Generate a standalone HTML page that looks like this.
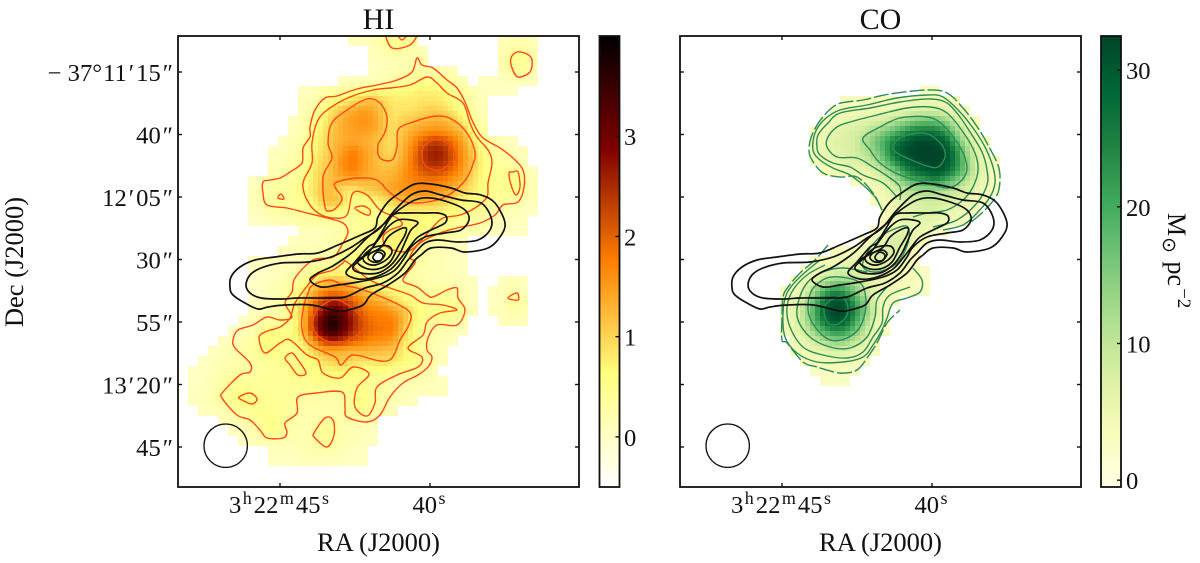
<!DOCTYPE html>
<html lang="en">
<head>
<meta charset="utf-8">
<title>HI and CO maps</title>
<style>
html,body{margin:0;padding:0;background:#fff;width:1200px;height:563px;overflow:hidden}
svg{display:block}
text{font-family:"Liberation Serif","DejaVu Serif",serif;fill:#111}
</style>
</head>
<body>
<svg id="fig" xmlns="http://www.w3.org/2000/svg" width="1200" height="563" viewBox="0 0 1200 563">
<defs>
<clipPath id="clipHI"><rect x="178" y="36" width="401" height="451"/></clipPath>
<clipPath id="clipCO"><rect x="680" y="36" width="401" height="451"/></clipPath>
</defs>
<g id="hiMap"></g>
<g id="coMap"></g>
<g id="hiLines" clip-path="url(#clipHI)"></g>
<g id="coLines" clip-path="url(#clipCO)"></g>
<g id="hiCb"></g>
<g id="coCb"></g>
<g id="axes"></g>
<text x="378.5" y="29" font-size="30" text-anchor="middle">HI</text>
<text x="880.5" y="29" font-size="30" text-anchor="middle">CO</text>
<text x="378.5" y="551" font-size="26.5" text-anchor="middle">RA (J2000)</text>
<text x="880.5" y="551" font-size="26.5" text-anchor="middle">RA (J2000)</text>
<text transform="translate(23,262) rotate(-90)" font-size="26.5" text-anchor="middle">Dec (J2000)</text>
<text transform="translate(1168,213) rotate(90)" font-size="26">M<tspan font-size="19" dy="5" dx="1" font-family="DejaVu Sans">⊙</tspan><tspan dy="-5" dx="2"> pc</tspan><tspan font-size="19" dy="-10" dx="2">−2</tspan></text>
</svg>
<script>
const _ = null;
/* Map grid: one cell = 4 arcsec. Contour vertices are in map units of 0.4 arcsec from the top-left corner. */
const hiFirstCol = [17,19,19,19,16,12,12,12,11,11,10,9,9,9,7,7,7,7,7,12,11,10,7,7,7,7,7,7,6,5,4,3,2,1,1,1,1,2,4,5,6,9,9];
const hiRows = [
[.05,.1,.15,.3,.45,.5,.3,_,_,_,_,_,_,_,_,.1,.15,.15,.1],
[.1,.2,.35,.3,.25,.1,_,_,_,_,_,_,_,.15,.35,.4,.15],
[.1,.1,.15,.15,.2,.25,_,_,_,_,_,_,_,.2,.45,.45,.2],
[.05,.1,.15,.2,.3,.3,.2,.15,.1,_,_,_,_,.15,.4,.4,.15],
[.05,.1,.1,.15,.2,.3,.35,.4,.5,.5,.45,.3,.15,_,.05,.05,.1,.1,.1,.05],
[.05,.1,.2,.3,.35,.45,.55,.6,.6,.65,.65,.7,.75,.75,.65,.5,.35,.2,.1,.05,0,0],
[.1,.2,.4,.6,.7,.9,1.1,1.2,1,.8,.8,.8,.85,.85,.8,.6,.4,.25,.1],
[.15,.3,.55,.9,1.2,1.4,1.5,1.4,1.1,.85,.85,.9,1,1.1,1,.8,.55,.3,.15],
[.05,.2,.45,.7,1.1,1.35,1.5,1.6,1.5,1.15,.85,1.05,1.15,1.25,1.3,1.3,1.15,.75,.4,.2],
[.1,.2,.5,.8,1.15,1.35,1.45,1.5,1.4,1.15,.9,1.15,1.35,1.5,1.6,1.55,1.4,1.2,.6,.25],
[.05,.15,.3,.6,.85,1.2,1.35,1.4,1.35,1.25,1.05,.9,1.25,1.6,2,2.3,2.2,1.85,1.4,.85,.4,.2,.1,.05],
[.05,.1,.2,.35,.65,.9,1.2,1.5,1.75,1.5,1.3,1.05,.95,1.3,1.75,2.35,2.65,2.55,2.05,1.55,1.05,.55,.35,.25,.15,.1],
[.1,.15,.25,.4,.7,1,1.2,1.65,1.8,1.55,1.3,1.1,1.1,1.4,1.85,2.35,2.6,2.5,2.1,1.55,1.15,.65,.4,.35,.25,.1],
[.15,.2,.3,.45,.8,1.05,1.25,1.6,1.75,1.5,1.3,1.2,1.25,1.5,1.8,2.1,2.25,2.15,1.85,1.5,1,.6,.45,.45,.5,.25,.05],
[.05,.15,.25,.3,.35,.55,.8,1.1,1.25,1.3,1.3,1.3,1.25,1.3,1.4,1.55,1.7,1.8,1.8,1.7,1.5,1.3,.9,.6,.5,.45,.6,.35,.15],
[.1,.3,.35,.35,.4,.6,.85,1.2,1.15,.85,.75,.95,1.1,1.25,1.45,1.55,1.6,1.65,1.6,1.5,1.3,1,.75,.6,.5,.45,.5,.35,.15],
[.1,.3,.35,.4,.4,.5,.7,1.1,1.25,1,.5,.5,.65,.8,1.05,1.2,1.25,1.2,1.2,1.05,.85,.7,.6,.5,.4,.35,.3,.2,.1],
[.05,.15,.3,.3,.3,.35,.5,.75,.7,.55,.45,.6,.45,.55,.7,.75,.75,.75,.75,.7,.65,.55,.5,.4,.3,.2,.15,.1,.05],
[0,.05,.1,.15,.2,.3,.35,.3,.3,.35,.4,.4,.45,.5,.6,.65,.7,.65,.6,.55,.5,.4,.3,.25,.15,.1,.05,.05],
[.05,.1,.15,.2,.3,.4,.45,.55,.6,.7,.75,.7,.6,.55,.5,.35,.25,.2,.15,.1,.05,.05,0],
[.05,.1,.1,.15,.2,.3,.4,.55,.6,.65,.75,.7,.6,.4,.3,.2,.15,.1],
[.1,.1,.15,.2,.2,.25,.4,.55,.6,.55,.6,.7,.7,.5,.3,.2,.15,.1,.05],
[.05,0,.05,.1,.1,.2,.25,.3,.35,.5,.6,.55,.5,.55,.6,.55,.4,.25,.2,.15,.1,.05],
[0,0,.05,.1,.2,.3,.45,.55,.6,.6,.55,.5,.5,.5,.45,.4,.3,.25,.2,.15,.1,.05],
[0,.05,.1,.2,.3,.45,.75,1.1,1.2,1.15,.95,.7,.6,.5,.4,.3,.3,.25,.2,.2,.15,.1,.05,_,_,.05,.1,.05],
[0,.05,.15,.25,.4,.7,1.25,1.6,1.8,1.65,1.4,1.2,1,.8,.65,.55,.45,.35,.35,.35,.3,.15,.05,_,.05,.15,.3,.05],
[.05,.1,.2,.3,.55,1.05,1.7,2.25,2.6,2.4,2,1.6,1.4,1.3,1,.75,.55,.45,.4,.45,.45,.25,.05,_,.05,.1,.4,.25],
[.1,.15,.25,.3,.6,1.15,2,2.8,3.3,3,2.4,1.9,1.7,1.65,1.5,1.2,.8,.6,.55,.55,.55,.4,.1,_,.05,.15,.3,.2],
[.05,.1,.25,.3,.35,.55,1.15,2.4,3.3,3.85,3.3,2.6,2.1,1.85,1.8,1.75,1.3,.75,.5,.35,.4,.35,.2,_,_,_,.1,.1,.1],
[.05,.1,.2,.5,.6,.55,.6,1.2,2.3,3.2,3.6,3.1,2.5,2.1,1.9,1.8,1.75,1.15,.65,.4,.25,.2,.15,.05],
[.05,.1,.2,.3,.6,.65,.55,.55,.85,1.5,2.3,2.5,2.3,2,1.8,1.65,1.6,1.45,.9,.6,.35,.2,.15,.05],
[.05,.1,.2,.3,.35,.55,.55,.45,.45,.6,.95,1.3,1.35,1.3,1.25,1.3,1.25,1.2,1.15,.75,.6,.4,.2,.1],
[.05,.1,.15,.2,.25,.3,.4,.45,.55,.5,.55,.65,.9,1.05,1.15,.95,.85,.9,.95,.85,.7,.6,.4,.2,.1],
[0,.05,.1,.2,.3,.3,.3,.35,.35,.4,.55,.55,.55,.65,.7,.7,.6,.55,.55,.55,.5,.45,.35,.25,.15],
[.05,.05,.15,.3,.4,.4,.35,.4,.4,.4,.4,.45,.5,.55,.55,.5,.45,.5,.4,.35,.25,.15,.2,.15,.1,.05],
[.05,.1,.2,.35,.45,.5,.45,.4,.4,.4,.4,.35,.35,.35,.3,.35,.5,.55,.4,.3,.2,.15,.15,.1,.1,.1],
[.05,.1,.2,.35,.5,.6,.5,.45,.45,.4,.4,.3,.25,.25,.25,.3,.45,.6,.4,.25,.15,.1,.05],
[.1,.1,.15,.3,.4,.45,.5,.45,.4,.35,.25,.2,.2,.25,.25,.4,.5,.35,.2,.1],
[.1,.15,.25,.35,.45,.55,.4,.25,.2,.2,.35,.3,.25,.2,.2,.15],
[.05,.1,.2,.4,.55,.4,.2,.2,.25,.45,.4,.2,.15,.1,.05],
[.05,.1,.2,.25,.2,.15,.2,.25,.45,.35,.2,.15,.1,.05],
[.05,.1,.1,.15,.2,.25,.2,.15,.05,.05],
[.05,.05,.05,.1,.1,.1,.1,.05,.05,.05]
];
const coFirstRow = 5;
const coFirstCol = [24,16,15,14,13,13,13,13,14,17,19,19,20,20,19,18,15,13,12,11,10,10,10,10,10,11,11,12,13,14];
const coRows = [
[3,3],
[3,3.2,3.4,3.4,3.4,3.7,4.1,4.5,4.8,4.8,4.1,3.4],
[3,4.1,4.4,4.5,5,5.1,5.5,6,7.5,8,8,6.5,4.8,3.4],
[4,4.8,5.6,6,6.5,7.5,8.5,11,13.5,16,17,17,14.5,9.5,5.5,3.4],
[3.4,5.2,6,7,7.8,9,12,15,18,22,25,26,25.5,22,14.5,7.8,4.5],
[4.5,5.6,6.8,7.5,8.2,12,16,20,25.5,29,31.5,32,31.5,29,20,11,5.5,3.4],
[4.8,5.6,6.5,7.3,8.2,11,14.5,20,28,31.5,32.5,33,33,32,25,14.5,7.8,4.5],
[3.7,4.6,5.6,6.4,7.5,8.7,11.5,17,24,29,31.5,32.5,33,31.5,25.5,16,8.5,5.1,3.4],
[3.4,4.2,4.6,5.2,5.6,7.2,11,16,23,27,29.5,31,29,23,16,8.5,5.5,3.4],
[3,4.2,5.3,7,11,16,20,21,24,20,16,11,7.2,4.8,3.4],
[3.7,5.2,7.2,9.5,11.5,12,12,11,9.5,7.5,5.8,4.2,3],
[3.2,4.5,5.8,7,7.8,8.5,8.7,8,7,5.7,4.5,3.4],
[3.7,4.8,5.6,7,7.8,7.5,6.4,5.3,4.4,3.4],
[3.4,4.5,5.3,6,6,5.6,4.8,4.1,3.4],
[3,4.2,5.3,6,5.6,4.8,3.7,2.5],
[3,4.2,6,8.5,7.8,4.8,3.4],
[3,3.4,4.1,4.8,7,8.5,7.8,5.8,3.7],
[2.5,3.7,4.4,5.1,5.5,6,7,7,5.8,4.5,3],
[3,4.1,5.5,6.8,7.5,7,6.4,6,5.6,4.8,4.1,3.7,2.5],
[3,4.5,7,11,13.5,13.5,11,7.8,6,5.1,4.2,3.8,3.7,2.5],
[3,4.5,7,13.5,20,24,21,16,9.5,6,4.8,3.7,3.4,3.2,2.5],
[4.1,5.5,10,18,27,31,29.5,21,13.5,6.5,4.1,3],
[4.4,6,11.5,20,29.5,33,31.5,24,16,7.5,3.7],
[4.4,6,11,19,27,31,29,21,13.5,6.4,3.4],
[3.8,5.5,8.5,14.5,20,23,22,17,9.5,5.1,3],
[4.4,6,8.7,12,14.5,14,10,7,4],
[3.2,4.5,5.5,6.4,7.5,7.2,5.8,4.2,3],
[3.2,4.1,4.4,4.4,4.2,4.1,3.4],
[2.5,3,3.2,3,2.8],
[2.5,2.5,2.5]
];
const jetLoops = [
[[52,252],[53,241],[62,231],[77,224],[97,221],[120,218],[140,217],[160,209],[183,199],[197,192],[200,181],[210,166],[223,156],[237,148],[253,148],[273,152],[287,157],[303,159],[317,167],[327,187],[322,201],[310,212],[287,216],[273,212],[253,212],[243,219],[237,224],[227,237],[210,249],[193,259],[185,269],[170,274],[160,275],[133,269],[107,269],[90,271],[80,273],[67,267],[55,259]],
[[68,249],[72,239],[83,232],[103,227],[130,226],[153,221],[172,212],[187,202],[202,192],[217,174],[233,159],[247,155],[263,159],[283,164],[303,167],[313,181],[312,194],[300,204],[280,206],[260,204],[247,207],[237,217],[230,224],[220,237],[205,247],[187,252],[167,261],[147,262],[120,262],[103,263],[83,262],[72,257]],
[[132,244],[140,237],[153,231],[167,222],[177,214],[190,201],[207,187],[218,176],[237,164],[253,162],[273,167],[287,174],[291,184],[283,194],[267,197],[247,201],[233,211],[227,221],[217,234],[203,241],[180,246],[160,249],[143,251]],
[[268,180],[260,177],[247,177],[227,177],[215,179],[205,194],[197,207],[190,211],[177,226],[168,237],[180,243],[197,241],[213,233],[223,222],[233,209],[240,201],[253,194],[267,187]],
[[240,187],[233,184],[220,184],[210,191],[200,204],[190,217],[175,231],[183,237],[200,237],[213,229],[222,217],[228,204],[233,194]],
[[228,192],[220,194],[210,201],[202,212],[180,224],[187,232],[200,233],[212,226],[220,211],[227,199]],
[[188,217],[197,211],[210,210],[214,216],[208,224],[197,229],[188,227],[185,222]],
[[193,217],[202,214],[207,218],[202,225],[195,226],[190,222]]
];
const jetCore = [[[196,219],[200,216],[205,219],[203,224],[198,225],[195,222]]];
const hiLevelLoops = [
[[85,146],[92,144],[102,142],[112,136],[124,127],[125,112],[132,101],[132,91],[137,74],[147,62],[159,60],[179,53],[199,49],[219,44],[234,36],[239,22],[244,29],[255,32],[269,44],[279,52],[287,66],[294,84],[304,101],[322,112],[335,122],[345,134],[346,151],[340,166],[325,169],[317,179],[302,187],[279,192],[262,197],[242,207],[232,221],[237,227],[225,244],[239,251],[249,259],[255,261],[269,254],[279,252],[280,262],[287,274],[279,289],[259,289],[250,302],[249,314],[254,321],[250,331],[240,339],[225,347],[212,361],[202,379],[189,386],[169,381],[167,371],[164,356],[139,357],[120,361],[119,377],[107,387],[109,396],[105,402],[89,402],[82,394],[72,384],[59,379],[44,362],[45,356],[62,339],[72,336],[72,327],[57,312],[55,304],[60,294],[75,289],[89,281],[102,284],[114,281],[107,267],[114,256],[117,242],[135,224],[155,221],[165,207],[170,196],[165,187],[149,182],[125,176],[109,172],[89,169],[85,157]],
[[249,41],[259,47],[269,57],[285,67],[292,87],[299,101],[310,114],[314,127],[310,147],[309,161],[297,172],[282,179],[265,182],[255,191],[237,211],[225,216],[209,211],[205,201],[212,194],[224,189],[219,182],[202,174],[189,159],[175,157],[169,179],[155,182],[140,177],[129,164],[125,147],[134,127],[134,107],[140,84],[152,72],[172,61],[195,54],[212,52],[232,49]],
[[189,63],[202,67],[209,81],[207,96],[200,109],[202,122],[214,124],[219,111],[220,94],[232,87],[259,80],[275,84],[289,97],[297,116],[294,131],[285,147],[265,162],[239,167],[222,164],[209,154],[199,144],[179,142],[159,146],[157,151],[164,162],[159,171],[152,175],[147,171],[145,141],[154,122],[150,107],[154,87],[169,74]],
[[262,103],[275,114],[275,124],[262,134],[249,131],[244,121],[247,109]],
[[100,162],[103,158],[106,163]],
[[177,172],[185,170],[192,174],[191,179],[184,177]],
[[335,136],[340,136],[342,151],[338,159],[333,149],[331,137]],
[[339,16],[349,18],[354,24],[352,36],[340,41],[334,32],[333,22]],
[[165,227],[155,234],[139,239],[130,249],[117,267],[112,282],[102,291],[87,296],[81,302],[87,317],[102,307],[112,304],[129,319],[140,324],[145,337],[162,342],[175,331],[191,338],[179,352],[177,371],[189,380],[197,367],[199,351],[219,339],[240,331],[244,321],[230,312],[245,299],[249,286],[262,277],[279,274],[265,269],[245,267],[232,259],[212,252],[192,244],[169,226]],
[[135,249],[152,244],[165,249],[179,252],[199,259],[225,271],[233,279],[230,291],[222,304],[214,322],[202,325],[175,319],[163,329],[157,321],[132,309],[124,294],[125,274],[130,257]],
[[154,264],[165,266],[179,276],[186,287],[182,297],[165,306],[152,306],[139,299],[135,287],[139,274]],
[[107,322],[114,317],[120,324],[128,337],[120,339],[112,329]],
[[61,361],[72,357],[79,363],[74,368],[64,364]],
[[136,397],[147,382],[155,384],[156,399],[149,411],[137,402]],
[[330,262],[339,257],[340,264]]
];
const hiLevelArcs = [
[[207,-2],[214,12],[232,9],[240,-2]],
[[219,-2],[224,4],[230,-2]]
];
const coSolidLoops = [
[[183,102],[200,91],[220,82],[247,81],[263,89],[280,111],[287,131],[282,144],[268,152],[247,147],[220,139],[200,127],[190,114]],
[[213,111],[220,102],[237,97],[250,99],[262,109],[265,121],[258,131],[247,130],[227,122],[217,117]],
[[128,274],[132,254],[147,242],[167,242],[182,249],[186,269],[180,291],[167,302],[150,304],[135,291]],
[[144,274],[148,266],[160,261],[167,267],[167,279],[158,288],[148,287]],
[[187,217],[200,201],[217,192],[228,191],[228,207],[217,227],[197,236],[183,231]]
];
const coSolidArcs = [
[[202,174],[195,161],[183,149],[170,139],[153,132],[140,124],[133,114],[135,97],[145,83],[160,74],[187,69],[217,62],[247,59],[263,61],[280,76],[293,92],[305,111],[313,131],[315,147],[310,161],[297,177],[283,189],[263,194]],
[[217,161],[203,147],[183,139],[170,131],[153,127],[140,119],[137,111],[138,99],[148,87],[160,77],[190,72],[220,66],[250,63],[267,67],[280,81],[290,96],[302,116],[307,134],[307,149],[297,167],[277,184],[253,191]],
[[220,164],[220,151],[210,142],[193,131],[177,122],[157,121],[147,111],[148,101],[157,91],[170,86],[197,79],[227,72],[250,71],[267,77],[283,96],[295,117],[298,134],[293,151],[283,164],[267,174],[247,177],[233,181]],
[[140,224],[120,241],[107,257],[103,277],[105,301],[117,317],[137,326],[163,326],[183,321],[193,309],[202,294],[207,282],[213,267],[227,262],[240,256],[242,244],[233,232]],
[[145,229],[127,239],[113,254],[107,271],[110,291],[123,311],[143,319],[167,322],[183,316],[193,301],[202,287],[203,271],[210,259],[230,251]],
[[187,236],[163,232],[143,236],[127,247],[118,267],[118,284],[130,301],[150,311],[170,312],[187,301],[195,281],[197,264],[207,251]]
];
const coDashedArcs = [
[[202,174],[193,157],[177,141],[160,141],[143,137],[132,124],[129,114],[132,99],[142,82],[158,68],[183,64],[210,58],[247,54],[267,57],[283,72],[298,92],[308,109],[318,129],[320,144],[317,159],[305,174],[290,187]],
[[148,209],[135,224],[120,237],[108,251],[103,261],[102,281],[102,304],[107,307],[123,326],[137,331],[160,337],[177,334],[187,322],[197,307],[207,287],[220,274]]
];
const beam = [47.7, 409.7, 21.7];
const raTickSeconds = [45, 40];
const raTickParts = [["3","h","22","m","45","s"],["40","s"]];
const decTickOffsets = [0, 25, 50, 75, 100, 125, 150];
const decTickLabels = ["−37°11′15″","40″","12′05″","30″","55″","13′20″","45″"];
const hiBarTicks = [0, 1, 2, 3];
const coBarTicks = [0, 10, 20, 30];

const NS = "http://www.w3.org/2000/svg";
const PANEL_TOP = 36, PANEL_W = 401, PANEL_H = 451, HI_LEFT = 178, CO_LEFT = 680, CELL = 10;
const HI_RANGE = [-0.5, 4.0], CO_RANGE = [-0.5, 32.5];
const ylgn = [[255,255,229],[247,252,185],[217,240,163],[173,221,142],[120,198,121],[65,171,93],[35,132,67],[0,104,55],[0,69,41]];

function make(parent, tag, attrs){
  const el = document.createElementNS(NS, tag);
  for (const k in attrs) el.setAttribute(k, attrs[k]);
  parent.appendChild(el);
  return el;
}
function hiColor(v){
  const t = Math.min(1, Math.max(0, (v - HI_RANGE[0]) / (HI_RANGE[1] - HI_RANGE[0])));
  const a = 2 * (1 - t);
  const c = x => Math.round(255 * Math.min(1, Math.max(0, x)));
  return "rgb(" + c(a) + "," + c(a - .5) + "," + c(a - 1) + ")";
}
function coColor(v){
  const t = Math.min(1, Math.max(0, (v - CO_RANGE[0]) / (CO_RANGE[1] - CO_RANGE[0]))) * 8;
  const i = Math.min(7, Math.floor(t)), f = t - i;
  const p = ylgn[i], q = ylgn[i + 1];
  return "rgb(" + [0,1,2].map(k => Math.round(p[k] + (q[k] - p[k]) * f)).join(",") + ")";
}
function cellAt(rows, first, r, c){
  const row = rows[r];
  if (!row) return null;
  const s = first[r];
  const v = row[c - s];
  return v === undefined ? null : v;
}
function drawMap(group, rows, first, rowShift, left, color, name){
  rows.forEach(function(row, r){
    row.forEach(function(v, k){
      if (v === null) return;
      const c = first[r] + k;
      [-1, 1].forEach(function(dy){
        [-1, 1].forEach(function(dx){
          const gx = cellAt(rows, first, r, c + dx), gy = cellAt(rows, first, r + dy, c), gd = cellAt(rows, first, r + dy, c + dx);
          const a = gx === null ? v : gx, b = gy === null ? v : gy, d = gd === null ? v : gd;
          const val = .5625 * v + .1875 * a + .1875 * b + .0625 * d;
          const rect = make(group, "rect", {
            x: left + c * CELL + (dx < 0 ? 0 : CELL / 2),
            y: PANEL_TOP + (r + rowShift) * CELL + (dy < 0 ? 0 : CELL / 2),
            width: CELL / 2, height: CELL / 2, fill: color(val), "shape-rendering": "crispEdges"
          });
          
          
        });
      });
    });
  });
}
function smoothPath(pts, left, closed){
  const X = p => left + p[0], Y = p => PANEL_TOP + p[1];
  const n = pts.length;
  const at = i => closed ? pts[(i + n) % n] : pts[Math.max(0, Math.min(n - 1, i))];
  let d = "M" + X(pts[0]).toFixed(1) + " " + Y(pts[0]).toFixed(1);
  const last = closed ? n : n - 1;
  for (let i = 0; i < last; i++){
    const p0 = at(i - 1), p1 = at(i), p2 = at(i + 1), p3 = at(i + 2);
    d += "C" + (X(p1) + (X(p2) - X(p0)) / 6).toFixed(1) + " " + (Y(p1) + (Y(p2) - Y(p0)) / 6).toFixed(1) + " " +
         (X(p2) - (X(p3) - X(p1)) / 6).toFixed(1) + " " + (Y(p2) - (Y(p3) - Y(p1)) / 6).toFixed(1) + " " +
         X(p2).toFixed(1) + " " + Y(p2).toFixed(1);
  }
  return d + (closed ? "Z" : "");
}
function drawLines(group, list, left, closed, stroke, width, name, dash, fill){
  list.forEach(function(pts){
    const path = make(group, "path", {d: smoothPath(pts, left, closed), fill: fill || "none", stroke: stroke, "stroke-width": width, "stroke-linejoin": "round"});
    if (dash) path.setAttribute("stroke-dasharray", dash);
    
    
  });
}
function raX(left, s){ return left + 102 + (45 - s) * 30; }
function decY(d){ return 72 + d * 2.5; }

drawMap(document.getElementById("hiMap"), hiRows, hiFirstCol, 0, HI_LEFT, hiColor, "hi-cell");
drawMap(document.getElementById("coMap"), coRows, coFirstCol, coFirstRow, CO_LEFT, coColor, "co-cell");

const hiL = document.getElementById("hiLines"), coL = document.getElementById("coLines");
drawLines(hiL, hiLevelLoops, HI_LEFT, true, "#ff4a12", 1.4, "hi-contour");
drawLines(hiL, hiLevelArcs, HI_LEFT, false, "#ff4a12", 1.4, "hi-contour");
drawLines(coL, coDashedArcs, CO_LEFT, false, "#2e8b57", 1.4, "co-contour-dashed", "15 3");
drawLines(coL, coSolidArcs, CO_LEFT, false, "#2e8b57", 1.4, "co-contour");
drawLines(coL, coSolidLoops, CO_LEFT, true, "#2e8b57", 1.4, "co-contour");
drawLines(hiL, jetLoops, HI_LEFT, true, "#111", 1.7, "jet-contour-on-hi");
drawLines(hiL, jetCore, HI_LEFT, true, "#111", 1.7, "jet-core-on-hi", null, "#fff");
drawLines(coL, jetLoops, CO_LEFT, true, "#111", 1.7, "jet-contour-on-co");
drawLines(coL, jetCore, CO_LEFT, true, "#111", 1.7, "jet-core-on-co");

function drawBar(group, x, w, range, color, ticks, labelX){
  const top = PANEL_TOP, h = PANEL_H;
  const valY = v => top + h * (range[1] - v) / (range[1] - range[0]);
  for (let y = 0; y < h; y++){
    const seg = make(group, "rect", {x: x, y: top + y, width: w, height: 1.2, fill: color(range[1] - (y + .5) / h * (range[1] - range[0]))});
    
    
  }
  const frame = make(group, "rect", {x: x, y: top, width: w, height: h, fill: "none", stroke: "#111", "stroke-width": 1.8});
  
  
  ticks.forEach(function(v){
    const y = valY(v);
    const tick = make(group, "line", {x1: x + w - 4, x2: x + w, y1: y, y2: y, stroke: "#111", "stroke-width": 1.4});
    
    
    const label = make(group, "text", {x: labelX, y: y + 9, "font-size": 24.6});
    label.textContent = String(v);
    
    
  });
}
drawBar(document.getElementById("hiCb"), 599.5, 20, HI_RANGE, hiColor, hiBarTicks, 624);
drawBar(document.getElementById("coCb"), 1101, 20, CO_RANGE, coColor, coBarTicks, 1126);

const axes = document.getElementById("axes");
function drawAxes(left, withDecLabels, panelName){
  const right = left + PANEL_W, top = PANEL_TOP, bottom = PANEL_TOP + PANEL_H;
  const ring = make(axes, "circle", {cx: left + beam[0], cy: top + beam[1], r: beam[2], fill: "none", stroke: "#111", "stroke-width": 1.3});
  
  
  const frame = make(axes, "rect", {x: left, y: top, width: PANEL_W, height: PANEL_H, fill: "none", stroke: "#111", "stroke-width": 1.8});
  
  
  raTickSeconds.forEach(function(s, i){
    const x = raX(left, s);
    [[top, top + 4], [bottom - 4, bottom]].forEach(function(seg){
      const t = make(axes, "line", {x1: x, x2: x, y1: seg[0], y2: seg[1], stroke: "#111", "stroke-width": 1.4});
      
      
    });
    const label = make(axes, "text", {x: x - 1, y: 513, "font-size": 24.6, "text-anchor": "middle"});
    
    
    raTickParts[i].forEach(function(part, k){
      const span = make(label, "tspan", {});
      span.textContent = part;
      if (k % 2 === 1){ span.setAttribute("font-size", "18"); span.setAttribute("dy", "-9"); span.setAttribute("dx", "1.5"); }
      else if (k > 0){ span.setAttribute("dy", "9"); span.setAttribute("dx", "2"); }
    });
  });
  decTickOffsets.forEach(function(d, i){
    const y = decY(d);
    [[left, left + 4], [right - 4, right]].forEach(function(seg){
      const t = make(axes, "line", {x1: seg[0], x2: seg[1], y1: y, y2: y, stroke: "#111", "stroke-width": 1.4});
      
      
    });
    if (withDecLabels){
      const label = make(axes, "text", {x: left - 5, y: y + 9, "font-size": 24.6, "text-anchor": "end"});
      
      
      let gap = 0;
      Array.from(decTickLabels[i]).forEach(function(ch){
        const span = make(label, "tspan", {});
        span.textContent = ch;
        const isPrime = ch === "′" || ch === "″";
        const before = gap + (isPrime ? 2 : 0);
        if (before) span.setAttribute("dx", before);
        gap = ch === "−" ? 6 : (ch === "′" ? 2 : (ch === "°" ? 1 : 0));
      });
    }
  });
}
drawAxes(HI_LEFT, true, "hi-panel");
drawAxes(CO_LEFT, false, "co-panel");
</script>
</body>
</html>
